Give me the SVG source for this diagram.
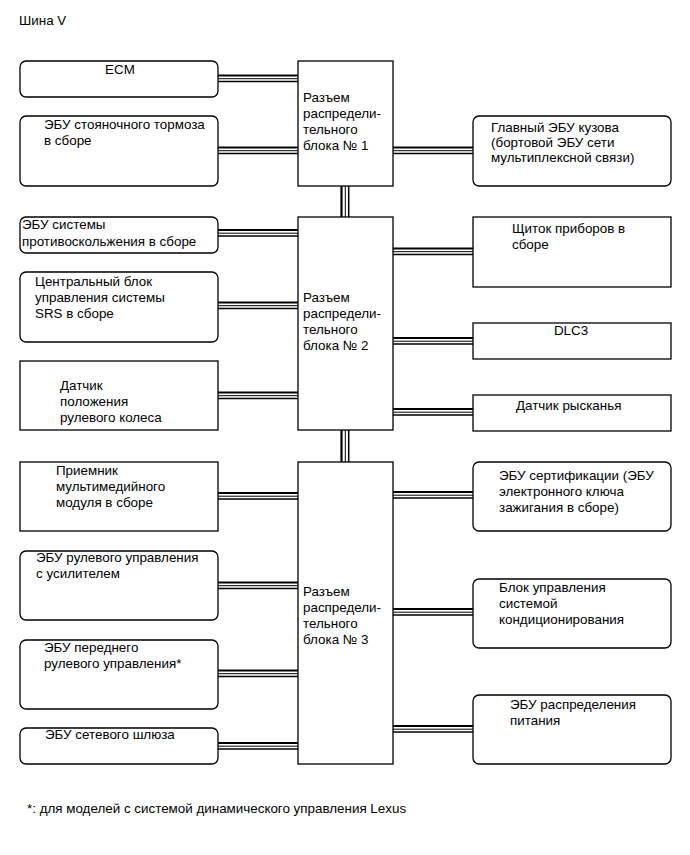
<svg xmlns="http://www.w3.org/2000/svg" width="690" height="855" viewBox="0 0 690 855">
<defs>
<style>
text{font-family:"Liberation Sans",Arial,sans-serif;font-size:13.4px;fill:#000}
.b{fill:#fff;stroke:#000;stroke-width:1.3}
.t{stroke-width:2}
.m{stroke-width:1}
.n{stroke-width:1.4}
</style>
<g id="busH">
<line class="t" x1="0" y1="0" x2="80" y2="0" stroke="#000"/>
<line class="m" x1="0" y1="3.2" x2="80" y2="3.2" stroke="#000"/>
<line class="n" x1="0" y1="6" x2="80" y2="6" stroke="#000"/>
</g>
<g id="busV">
<line x1="0" y1="0" x2="0" y2="1" stroke="#000" stroke-width="2.2"/>
<line x1="3.8" y1="0" x2="3.8" y2="1" stroke="#000" stroke-width="1"/>
<line x1="7.2" y1="0" x2="7.2" y2="1" stroke="#000" stroke-width="1.5"/>
</g>
</defs>
<rect width="690" height="855" fill="#fff"/>
<text x="19" y="25">Шина V</text>

<g id="connectors">
<use href="#busH" x="218" y="75.5"/>
<use href="#busH" x="218" y="147.5"/>
<use href="#busH" x="218" y="230"/>
<use href="#busH" x="218" y="302.5"/>
<use href="#busH" x="218" y="392.5"/>
<use href="#busH" x="218" y="493"/>
<use href="#busH" x="218" y="582.5"/>
<use href="#busH" x="218" y="670.5"/>
<use href="#busH" x="218" y="743"/>
<use href="#busH" x="393" y="147.5"/>
<use href="#busH" x="393" y="248.5"/>
<use href="#busH" x="393" y="338"/>
<use href="#busH" x="393" y="409"/>
<use href="#busH" x="393" y="492"/>
<use href="#busH" x="393" y="609"/>
<use href="#busH" x="393" y="726"/>
<g transform="translate(341.5,186) scale(1,31)"><use href="#busV"/></g>
<g transform="translate(341.5,430) scale(1,32)"><use href="#busV"/></g>
</g>

<g id="j1"><rect class="b" x="298" y="61" width="95" height="125"/>
<text x="303" y="102">Разъем</text><text x="303" y="118">распредели-</text><text x="303" y="134">тельного</text><text x="303" y="150">блока № 1</text></g>
<g id="j2"><rect class="b" x="298" y="217" width="95" height="213"/>
<text x="303" y="302">Разъем</text><text x="303" y="318">распредели-</text><text x="303" y="334">тельного</text><text x="303" y="350">блока № 2</text></g>
<g id="j3"><rect class="b" x="298" y="462" width="95" height="302"/>
<text x="303" y="596">Разъем</text><text x="303" y="612">распредели-</text><text x="303" y="628">тельного</text><text x="303" y="644">блока № 3</text></g>

<g id="ecm"><rect class="b" x="20" y="61" width="198" height="36" rx="6"/>
<text x="120" y="74" text-anchor="middle">ECM</text></g>
<g id="parking"><rect class="b" x="20" y="116" width="198" height="70" rx="6"/>
<text x="44" y="129">ЭБУ стояночного тормоза</text><text x="44" y="145">в сборе</text></g>
<g id="skid"><rect class="b" x="20" y="217" width="198" height="36" rx="6"/>
<text x="22" y="229">ЭБУ системы</text><text x="22" y="246">противоскольжения в сборе</text></g>
<g id="srs"><rect class="b" x="20" y="272" width="198" height="70" rx="6"/>
<text x="35" y="286">Центральный блок</text><text x="35" y="302">управления системы</text><text x="35" y="318">SRS в сборе</text></g>
<g id="steer-sensor"><rect class="b" x="20" y="361" width="198" height="69"/>
<text x="60" y="390">Датчик</text><text x="60" y="406">положения</text><text x="60" y="422">рулевого колеса</text></g>
<g id="multimedia"><rect class="b" x="20" y="462" width="198" height="69"/>
<text x="56" y="475">Приемник</text><text x="56" y="491">мультимедийного</text><text x="56" y="507">модуля в сборе</text></g>
<g id="eps"><rect class="b" x="20" y="551" width="198" height="69" rx="6"/>
<text x="36" y="562">ЭБУ рулевого управления</text><text x="36" y="578">с усилителем</text></g>
<g id="front-steer"><rect class="b" x="20" y="640" width="198" height="69" rx="6"/>
<text x="44" y="652">ЭБУ переднего</text><text x="44" y="668">рулевого управления*</text></g>
<g id="gateway"><rect class="b" x="20" y="728" width="198" height="36" rx="6"/>
<text x="45" y="739">ЭБУ сетевого шлюза</text></g>

<g id="body"><rect class="b" x="473" y="116" width="198" height="70" rx="6"/>
<text x="491" y="132">Главный ЭБУ кузова</text><text x="491" y="147">(бортовой ЭБУ сети</text><text x="491" y="162">мультиплексной связи)</text></g>
<g id="meter"><rect class="b" x="473" y="217" width="198" height="70"/>
<text x="512" y="233">Щиток приборов в</text><text x="512" y="249">сборе</text></g>
<g id="dlc3"><rect class="b" x="473" y="323" width="198" height="36"/>
<text x="571" y="335" text-anchor="middle">DLC3</text></g>
<g id="yaw"><rect class="b" x="473" y="395" width="198" height="36"/>
<text x="516" y="410">Датчик рысканья</text></g>
<g id="cert"><rect class="b" x="473" y="462" width="198" height="69" rx="6"/>
<text x="499" y="480">ЭБУ сертификации (ЭБУ</text><text x="499" y="496">электронного ключа</text><text x="499" y="512">зажигания в сборе)</text></g>
<g id="ac"><rect class="b" x="473" y="579" width="198" height="69" rx="6"/>
<text x="499" y="592">Блок управления</text><text x="499" y="608">системой</text><text x="499" y="624">кондиционирования</text></g>
<g id="power"><rect class="b" x="473" y="695" width="198" height="69" rx="6"/>
<text x="510" y="709">ЭБУ распределения</text><text x="510" y="725">питания</text></g>

<text x="27" y="813">*: для моделей с системой динамического управления Lexus</text>
</svg>
